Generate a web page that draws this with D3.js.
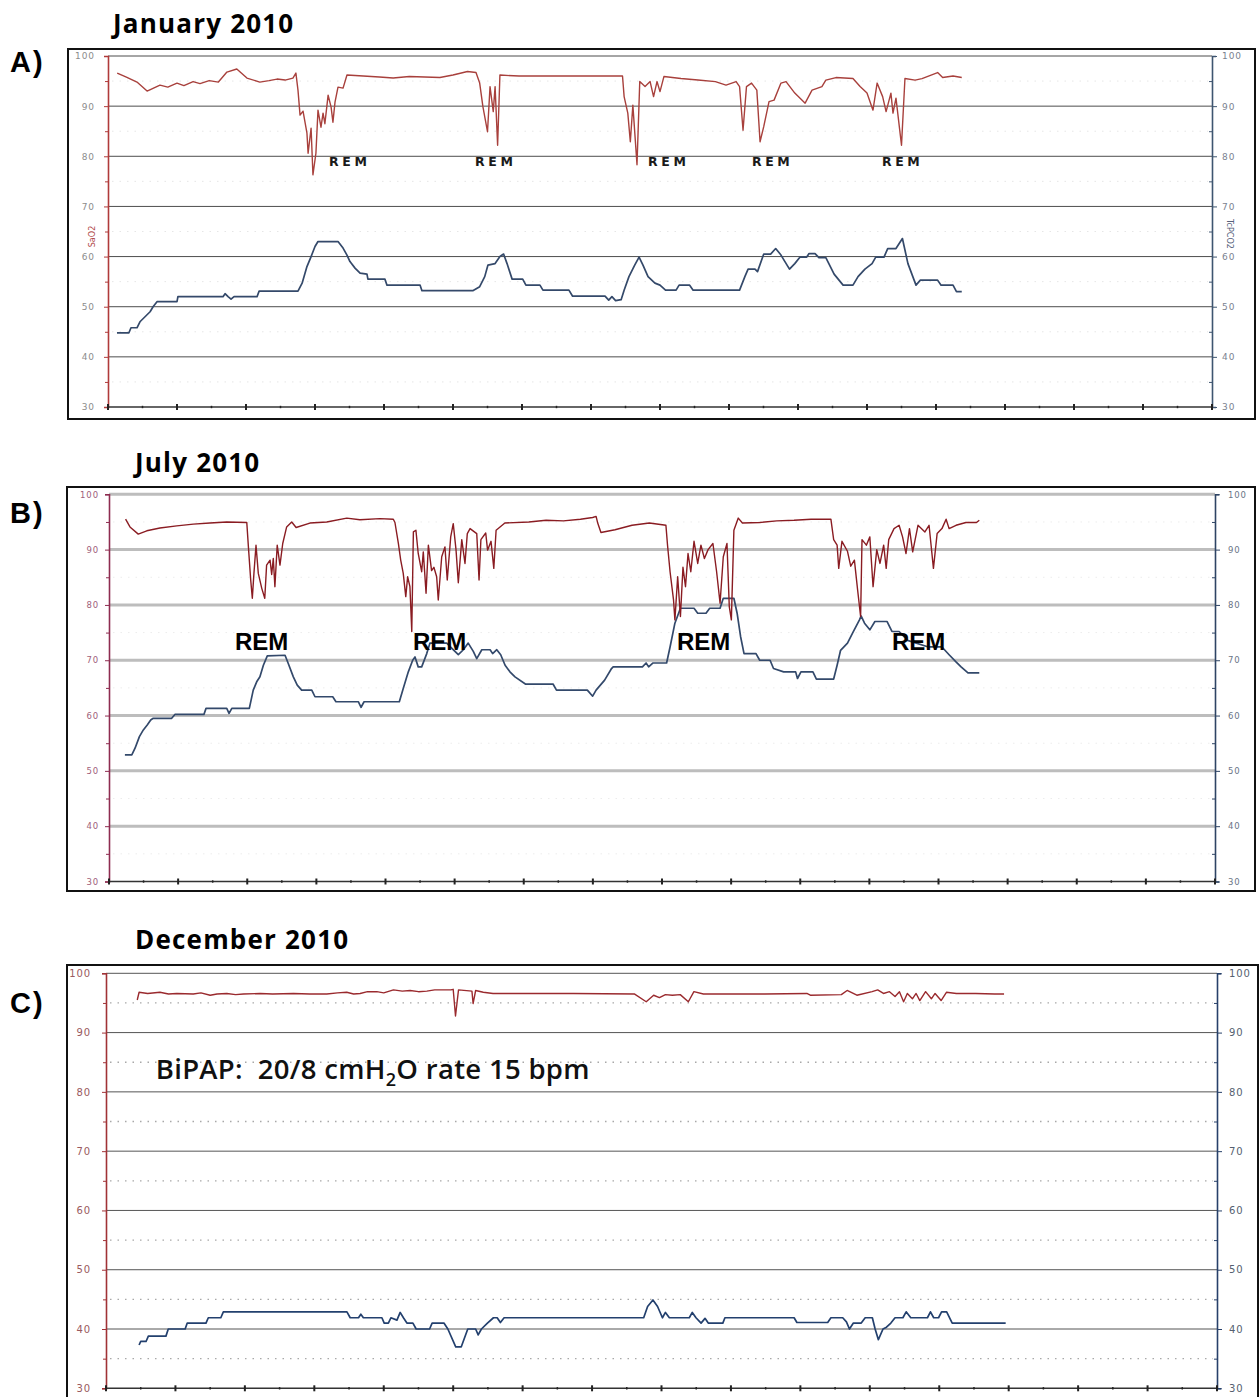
<!DOCTYPE html>
<meta charset="utf-8">
<style>
 body { margin: 0; background: #fff; }
 svg { display: block; background: #fff; }
 .letter { font-family: "Liberation Sans", Arial, sans-serif; font-weight: bold; font-size: 29px; letter-spacing: 2px; }
 .title { font-family: "Open Sans", sans-serif; font-weight: 700; font-size: 26px; letter-spacing: 1.2px; }
 .tick text { font-family: "DejaVu Sans", sans-serif; }
</style>
<body>
<svg width="1260" height="1397"></svg>
<script src="https://d3js.org/d3.v7.min.js"></script>
<script>

 /* time in minutes from start of the recording, one major tick = 30 min */
 var yTicks = [30, 35, 40, 45, 50, 55, 60, 65, 70, 75, 80, 85, 90, 95, 100];
 var xTicks = d3.range(0, 481, 15);

 var janSaO2 = [[4,96.6],[8,95.8],[12.6,94.8],[17,93],[22.6,94.2],[26,93.8],[30,94.6],[33,94.1],[37,94.9],[40,94.5],[44,95.1],[48,94.8],[51.7,96.8],[56,97.4],[60.4,95.6],[66,94.8],[70,95.1],[73.5,95.4],[77,95.2],[80.4,95.6],[81.7,96.6],[82.6,93.2],[83.5,88.2],[84.8,89],[86.5,84.6],[87,80.6],[88.3,85.6],[89.1,76.3],[90.4,80.6],[91.3,89.2],[92.6,85.8],[93.5,88.6],[94.3,86.5],[95.7,92.2],[97,89.8],[97.8,86.8],[98.7,90.8],[100,93.8],[102.2,93.6],[103.9,96.2],[118,95.8],[124,95.6],[131,95.9],[144.3,95.7],[150,96.2],[156.3,96.9],[160,96.7],[161.6,94.6],[163,89.9],[165,84.9],[166.1,93.9],[167.5,88.9],[168.3,93.9],[169.4,82.2],[170.4,96.2],[178.7,96.0],[196.5,96.0],[223.7,96.0],[224.4,91.9],[226,88.6],[227.1,82.9],[228.2,90.2],[230,78.3],[231.2,94.9],[233.5,93.9],[235.7,94.9],[237.2,91.9],[238.7,94.9],[240,92.9],[241.7,95.9],[249.1,95.5],[256.5,95.2],[264.1,94.9],[268.7,94.2],[273.1,94.9],[274.6,93.9],[276.1,85.2],[277.6,93.9],[279.8,94.6],[282.1,93.2],[283.5,82.9],[285.1,85.9],[287.4,90.9],[289.6,91.2],[292.6,94.6],[294.8,94.9],[298.6,92.6],[303.1,90.6],[306.1,93.2],[310.4,93.9],[312.1,95.2],[316.5,95.7],[323.9,95.5],[327,93.9],[330,92.6],[332.6,89.2],[334.4,94.6],[336.8,91.9],[338.3,88.9],[340.4,92.6],[341.3,88.6],[342.6,91.6],[345,82.2],[346.5,95.5],[350.9,95.2],[353.9,95.5],[360.7,96.7],[362.9,95.7],[367.4,96.0],[371.2,95.7]];

 var janTcPCO2 = [[3.9,44.8],[9.1,44.8],[10,45.8],[12.6,45.8],[13.9,47],[16.1,48],[18.3,49],[19.6,50],[21.3,51],[30,51],[30.4,52],[50,52],[50.9,52.6],[52.2,52],[53.5,51.5],[54.8,52],[64.8,52],[65.7,53.1],[82.6,53.1],[84.4,54.7],[86.5,58],[88.3,60],[90,62],[91.3,63],[100,63],[102.2,61.7],[103.9,60.3],[105.2,59],[107.4,57.7],[109.6,56.7],[112.6,56.5],[113,55.5],[120.4,55.5],[121.3,54.3],[135.7,54.3],[136.5,53.2],[158.6,53.2],[161.6,54],[163.8,56],[165.2,58.3],[168.3,58.6],[170.4,60],[172,60.5],[173.5,58.6],[175.7,55.5],[180.3,55.5],[181.7,54.3],[187.8,54.3],[189.1,53.3],[200.4,53.3],[202,52.1],[216.1,52.1],[217.7,51.3],[219.1,52],[220.7,51.2],[223.1,51.4],[224.4,53.3],[226.5,56],[229,58.3],[230.9,59.9],[232.6,58.3],[234.8,56],[237.8,54.7],[240,54.3],[242.4,53.3],[247,53.3],[248.3,54.3],[252.9,54.3],[254.4,53.3],[274.6,53.3],[276.9,56],[278.3,57.5],[281.3,57.5],[282.4,57],[285.1,60.5],[288.1,60.5],[290.3,61.6],[292.6,60.3],[296.3,57.5],[298.6,58.6],[300.9,59.9],[303.8,59.9],[304.8,60.6],[307.4,60.6],[309.1,59.8],[312.1,59.8],[315.7,56.5],[319.6,54.3],[323.9,54.3],[326.1,56],[329.1,57.5],[332.2,58.6],[333.8,59.9],[337.4,59.9],[339,61.6],[342.6,61.6],[345.4,63.6],[347.8,58.6],[351.3,54.3],[353.2,55.3],[360.7,55.3],[362.2,54.3],[367.4,54.3],[368.9,53],[371.2,53]];

 var julSaO2 = [[7.2,95.5],[9.1,94.1],[12.7,92.8],[16.4,93.4],[22.1,93.9],[29.4,94.3],[36.6,94.6],[43.8,94.8],[51.1,95.0],[59.8,94.9],[60.5,90.5],[61.5,84.5],[62.2,81.2],[62.9,85.7],[63.8,90.8],[64.8,85.7],[66.3,83.0],[67.6,81.2],[68.4,87.2],[69.9,88.1],[70.6,85.5],[71.3,88.4],[72,83.3],[73,90.8],[74.2,87.2],[75.4,91.1],[77.1,94.1],[79.3,95.0],[81.2,94.0],[87.2,94.8],[94.5,95.0],[103.2,95.7],[108.9,95.4],[117.6,95.6],[123.4,95.5],[124.1,94.9],[125.6,91.1],[126.6,88.1],[127.7,85.7],[128.8,81.5],[129.6,85.1],[130.6,83.3],[131.4,75.2],[132.1,93.2],[133.2,93.5],[134.2,89.3],[135.7,86.0],[136.4,89.6],[137.6,82.1],[138.6,90.8],[140,86.2],[141,86.8],[142.2,85.1],[142.9,80.9],[144.4,88.7],[145.8,90.5],[146.8,84.5],[148.3,92.3],[149.4,94.7],[150.6,90],[151.6,84],[153.1,91.8],[154.5,87.5],[155.5,92.9],[156.7,93.8],[159.6,92.9],[160.6,84.5],[161.4,91.8],[163.5,93],[164.3,89.9],[165.8,91.5],[167,86.6],[168,93.5],[171.8,94.8],[182.2,95.0],[189.7,95.3],[197.2,95.2],[204.6,95.5],[209.9,95.8],[211.4,96],[212.1,94.8],[213.5,93.1],[219.6,93.6],[227,94.4],[234.5,94.8],[241.7,94.4],[242.4,90.8],[243.5,86],[245,80.9],[245.6,77.3],[246.8,85.1],[248,77.9],[249.1,86.8],[250.2,83.3],[251.3,89.3],[252.5,86],[253.9,91.5],[255.5,87.5],[256.9,90.8],[258.4,88.4],[260,90],[262.1,91.1],[263.7,86],[265.2,80.3],[266.6,88.7],[268.2,91.1],[269.2,79.7],[270.1,77.3],[271.2,93.5],[273.1,95.7],[274.9,94.8],[282.4,94.9],[289.8,95.2],[297.3,95.3],[304.7,95.5],[313.3,95.5],[314.5,91.8],[316,90.8],[316.7,86.6],[318.1,91.5],[320.5,89.7],[321.9,87],[323.5,88.1],[324.9,82.7],[326.2,77.9],[326.8,91.8],[328.7,90.8],[330.2,92.3],[331.6,83.3],[333.2,90],[334.6,87.5],[336.2,90.8],[337.3,86.6],[338.4,91.8],[340.7,93.8],[342.9,94.4],[344.4,92.3],[345.9,89.3],[347.4,93.8],[348.8,89.6],[351.1,94.4],[354.1,93.2],[355.9,94.4],[357.8,86.6],[359.4,92.9],[361.5,93.8],[363.3,95.5],[364.6,93.8],[367.6,94.4],[371.9,94.9],[376.5,94.9],[377.7,95.3]];

 var julTcPCO2 = [[6.9,52.9],[9.9,52.9],[11.3,54.1],[13.2,56.2],[14.9,57.4],[16.6,58.3],[18.1,59.2],[19.2,59.5],[27.2,59.5],[28.6,60.2],[41.2,60.2],[42.1,61.3],[51.1,61.3],[52.1,60.4],[53.3,61.3],[60.9,61.3],[62.6,64.6],[64.1,66.1],[65.5,67],[67,69.1],[68.7,70.8],[76.4,70.9],[77.8,69.4],[80,67],[81.7,65.5],[83.6,64.6],[88,64.6],[89.4,63.4],[97.1,63.4],[98.5,62.5],[108.2,62.5],[109.4,61.5],[110.7,62.5],[126,62.5],[127.7,64.9],[129.9,67.9],[131.8,70],[132.8,70.6],[134.2,68.8],[135.7,68.8],[137.9,71.2],[139.3,73.1],[146.6,73.1],[148.7,72.2],[151.6,71],[153.8,71.9],[155.9,73.1],[158.1,71.6],[159.6,70.3],[161.8,71.9],[165.4,71.9],[166.5,71.2],[168.3,71.9],[170,71],[171.9,69.1],[174,67.9],[176.2,67],[180.7,65.7],[192.7,65.7],[194.2,64.6],[207.6,64.6],[209.9,63.5],[211.4,64.6],[215.1,66.4],[218.1,68.5],[218.8,68.8],[231.5,68.8],[233.1,69.5],[234.2,68.8],[236,69.5],[242,69.5],[243.5,72.4],[245.6,76.7],[248,79.4],[253.9,79.4],[255.5,78.5],[259.1,78.5],[260.7,79.4],[265.2,79.4],[266.6,81.2],[271.2,81.2],[272.6,78.5],[274.1,74.3],[275.6,71.2],[280.8,71.2],[282.4,70],[286.9,70],[288.4,68.5],[292.8,67.9],[298,67.9],[298.8,66.7],[300.3,67.9],[305.5,67.9],[307,66.6],[314.5,66.6],[316,69.1],[317.5,71.8],[320.5,73.1],[322.7,74.9],[325.7,77.3],[326.4,78],[327.9,76.7],[330.2,75.5],[332.4,77],[337.7,77],[339.8,75.2],[342.9,75.2],[346.6,73.6],[355.6,72.4],[361.5,72.4],[364.6,71],[367.6,69.7],[369.8,68.8],[372.8,67.7],[377.7,67.7]];

 var decSaO2 = [[13.5,95.5],[14.3,96.8],[18,96.6],[23.3,96.8],[27,96.5],[30.6,96.6],[37.7,96.5],[41,96.7],[45,96.3],[48,96.5],[52.2,96.6],[56,96.4],[59.4,96.5],[66.6,96.6],[72,96.5],[81,96.6],[88,96.5],[95.4,96.5],[100,96.7],[104,96.8],[107,96.5],[109.8,96.6],[113,96.9],[117,96.9],[120,96.7],[124.2,97.2],[128,97.0],[131.4,97.1],[135,96.9],[138.6,97.0],[142,97.2],[145.8,97.2],[149,97.2],[150,97.3],[151,92.8],[152.3,97.2],[158.1,97.0],[158.6,94.9],[159.7,97.1],[163,96.8],[167.2,96.6],[185.4,96.6],[201.9,96.6],[228.4,96.5],[233.4,95.2],[236.6,96.3],[239.1,95.9],[241.7,96.4],[244.7,96.3],[248.1,96.4],[251.6,95.2],[254,96.9],[258.1,96.5],[284.6,96.5],[302.8,96.6],[304.3,96.3],[317.7,96.4],[320.2,97.1],[324.4,96.3],[331,96.9],[333.4,97.2],[335.9,96.6],[338.5,96.9],[340.9,96.1],[342.8,96.9],[344.6,95.2],[346.2,96.6],[348.4,95.7],[350,96.6],[351.6,95.4],[354.1,96.9],[356.6,95.7],[358.2,96.6],[360.8,95.4],[363.1,96.8],[367.4,96.6],[375.7,96.6],[384,96.5],[388,96.5]];

 var decTcPCO2 = [[14.3,37.3],[15,37.9],[17.3,37.9],[18.3,38.8],[25.9,38.8],[26.9,40],[34.2,40],[35.1,41],[43.2,41],[44.2,41.9],[49.6,41.9],[50.7,42.9],[104.1,42.9],[105.5,41.9],[109.1,41.9],[110.1,42.5],[111.2,41.9],[119.2,41.9],[120.2,41],[122,41],[123.1,41.9],[125.7,41.5],[127.1,42.8],[128.5,41.9],[130,41],[132.6,41],[134,40],[139.8,40],[140.9,41],[146,41],[147.7,40],[151.1,37],[153.5,37],[156.3,40],[159.7,40],[160.8,39],[162.2,40],[164.8,41],[167.4,41.9],[169,41.9],[170.4,41.1],[172,41.9],[232.3,41.9],[234,43.8],[236.3,44.9],[238.3,43.8],[240.4,41.9],[241.7,42.8],[243.4,41.9],[252,41.9],[253.3,42.8],[254.9,41.9],[257.1,41],[258.8,41.8],[260.2,41],[266.5,41],[267.4,41.9],[297.3,41.9],[298.5,41.1],[311.8,41.1],[313.2,41.9],[318.3,41.9],[319.9,41.2],[321.2,40],[322.9,41],[326.3,41],[328,41.9],[331.1,41.9],[332.3,40],[333.7,38.2],[335.7,40],[337.2,40.3],[339.1,41],[340.9,41.9],[344.3,41.9],[345.7,42.9],[347.7,41.9],[354.9,41.9],[356.2,42.9],[357.6,41.9],[359.7,41.9],[361,42.9],[363.2,42.9],[365.6,41],[388.7,41]];

 var titles = ["January 2010", "July 2010", "December 2010"];
 var letters = ["A)", "B)", "C)"];
 var janRem = [96.1, 159.6, 234.8, 280, 336.5];
 var julRem = [54.7, 131.9, 246.5, 339.8];

 var svg = d3.select("svg");

 var panels = [
   { sao2: janSaO2, tc: janTcPCO2, title: titles[0], letter: letters[0], rem: janRem, remY: 78.06, remBig: false,
     box: [68, 49, 1255, 419], left: 108, right: 1212, top: 56, bottom: 407,
     titleX: 113, titleY: 33, letterY: 72,
     grid: "#4d4d4d", gridW: 1, dotted: "#e6e6e6", dotW: 1,
     leftAxis: "#b03a3a", leftText: "#8c8c8c", rightAxis: "#3e5570", rightText: "#7a8290",
     fs: 9, lpad: 13, rpad: 10,
     red: "#a8403c", blue: "#34496a", axisNames: true },
   { sao2: julSaO2, tc: julTcPCO2, title: titles[1], letter: letters[1], rem: julRem, remY: 71.8, remBig: true,
     box: [67, 487, 1255, 891], left: 109, right: 1215, top: 494.3, bottom: 881.5,
     titleX: 135, titleY: 472, letterY: 523,
     grid: "#bdbdbd", gridW: 3, dotted: "#ececec", dotW: 1,
     leftAxis: "#8e2c50", leftText: "#a0607a", rightAxis: "#2e4464", rightText: "#6a7486",
     fs: 8.5, lpad: 10, rpad: 13,
     red: "#8a1c22", blue: "#33496b", axisNames: false },
   { sao2: decSaO2, tc: decTcPCO2, title: titles[2], letter: letters[2], rem: [], remY: 0,
     box: [67, 965, 1258, 1420], left: 106, right: 1217, top: 973.3, bottom: 1388.3,
     titleX: 135, titleY: 949, letterY: 1013,
     grid: "#555", gridW: 1, dotted: "#a8a8a8", dotW: 1.3,
     leftAxis: "#a03236", leftText: "#9a5a60", rightAxis: "#27406a", rightText: "#555f70",
     fs: 10, lpad: 15, rpad: 12,
     red: "#9a2a2e", blue: "#23406e", axisNames: false, bipap: true }
 ];

 panels.forEach(function(p) {
   var x = d3.scaleLinear().domain([0, 480]).range([p.left, p.right]);
   var y = d3.scaleLinear().domain([30, 100]).range([p.bottom, p.top]);
   var g = svg.append("g");

   g.append("rect")
     .attr("x", p.box[0]).attr("y", p.box[1])
     .attr("width", p.box[2] - p.box[0]).attr("height", p.box[3] - p.box[1])
     .attr("fill", "none").attr("stroke", "#111").attr("stroke-width", 2);

   // half-decade dotted lines, then the solid decade lines
   g.selectAll(".dot5").data(yTicks.filter(function(v) { return v % 10 == 5; }))
     .enter().append("line")
     .attr("x1", p.left + 4).attr("x2", p.right - 4)
     .attr("y1", function(d) { return y(d); }).attr("y2", function(d) { return y(d); })
     .attr("stroke", p.dotted).attr("stroke-width", p.dotW)
     .attr("stroke-dasharray", "1.5,6");
   g.selectAll(".grid").data(yTicks.filter(function(v) { return v % 10 == 0 && v > 30; }))
     .enter().append("line")
     .attr("x1", p.left).attr("x2", p.right)
     .attr("y1", function(d) { return y(d); }).attr("y2", function(d) { return y(d); })
     .attr("stroke", p.grid).attr("stroke-width", p.gridW);

   // left axis
   var la = g.append("g").attr("transform", "translate(" + p.left + ",0)")
     .call(d3.axisLeft(y).tickValues(yTicks).tickSize(4).tickPadding(p.lpad - 4)
       .tickFormat(function(d) { return d % 10 == 0 ? d : ""; }));
   la.select(".domain").attr("stroke", p.leftAxis).attr("stroke-width", 1.6);
   la.selectAll(".tick line").attr("stroke", p.leftAxis)
     .attr("x2", function(d) { return d % 10 == 0 ? -4 : -3; });
   la.selectAll(".tick text").attr("fill", p.leftText).style("font-size", p.fs + "px")
     .style("letter-spacing", "0.9px");

   // right axis
   var ra = g.append("g").attr("transform", "translate(" + p.right + ",0)")
     .call(d3.axisRight(y).tickValues(yTicks).tickSize(4).tickPadding(p.rpad - 4)
       .tickFormat(function(d) { return d % 10 == 0 ? d : ""; }));
   ra.select(".domain").attr("stroke", p.rightAxis).attr("stroke-width", 1.6);
   ra.selectAll(".tick line").attr("stroke", p.rightAxis)
     .attr("x1", function(d) { return d % 10 == 0 ? 0 : -3; })
     .attr("x2", function(d) { return d % 10 == 0 ? 5 : 0; });
   ra.selectAll(".tick text").attr("fill", p.rightText).style("font-size", p.fs + "px")
     .style("letter-spacing", "0.9px");

   // time axis
   g.append("line").attr("x1", p.left).attr("x2", p.right)
     .attr("y1", y(30)).attr("y2", y(30))
     .attr("stroke", "#333").attr("stroke-width", 1.6);
   g.selectAll(".xt").data(xTicks).enter().append("line")
     .attr("x1", function(d) { return x(d); }).attr("x2", function(d) { return x(d); })
     .attr("y1", function(d) { return y(30) - (d % 30 == 0 ? 3 : 1.2); })
     .attr("y2", function(d) { return y(30) + (d % 30 == 0 ? 3 : 1.2); })
     .attr("stroke", "#222").attr("stroke-width", function(d) { return d % 30 == 0 ? 2 : 1.5; });

   var line = d3.line().x(function(d) { return x(d[0]); }).y(function(d) { return y(d[1]); });

   g.append("path").datum(p.tc).attr("d", line)
     .attr("fill", "none").attr("stroke", p.blue).attr("stroke-width", 1.7)
     .attr("stroke-linejoin", "round");
   g.append("path").datum(p.sao2).attr("d", line)
     .attr("fill", "none").attr("stroke", p.red).attr("stroke-width", 1.4)
     .attr("stroke-linejoin", "round");

   // REM labels
   g.selectAll(".rem").data(p.rem).enter().append("text")
     .attr("x", function(d) { return x(d); }).attr("y", y(p.remY))
     .text("REM")
     .style("font-family", p.remBig ? "'Liberation Sans', Arial, sans-serif" : "'DejaVu Sans', sans-serif")
     .style("font-weight", "bold")
     .style("font-size", p.remBig ? "24px" : "12.5px")
     .style("letter-spacing", p.remBig ? "0px" : "3.6px")
     .attr("fill", p.remBig ? "#000" : "#1a1a1a");

   svg.append("text").attr("class", "title").attr("x", p.titleX).attr("y", p.titleY).text(p.title);
   svg.append("text").attr("class", "letter").attr("x", 10).attr("y", p.letterY).text(p.letter);

   if (p.axisNames) {
     g.append("text").attr("transform", "translate(95," + y(64) + ") rotate(-90)")
       .attr("text-anchor", "middle").style("font-family", "'DejaVu Sans Condensed', sans-serif")
       .style("font-size", "9px").attr("fill", "#b04a4a").text("SaO2");
     g.append("text").attr("transform", "translate(1227," + y(64.5) + ") rotate(90)")
       .attr("text-anchor", "middle").style("font-family", "'DejaVu Sans Condensed', sans-serif")
       .style("font-size", "9px").attr("fill", "#55607a").text("TcPCO2");
   }

   if (p.bipap) {
     var t = g.append("text").attr("x", x(21.5)).attr("y", y(82.2))
       .attr("xml:space", "preserve")
       .style("white-space", "pre")
       .style("font-family", "'Open Sans', sans-serif").style("font-weight", 600)
       .style("font-size", "27.5px").style("letter-spacing", "0.3px").attr("fill", "#111");
     t.append("tspan").text("BiPAP:  20/8 cmH");
     t.append("tspan").attr("dy", 7).style("font-size", "18px").text("2");
     t.append("tspan").attr("dy", -7).text("O rate 15 bpm");
   }
 });

</script>
</body>
